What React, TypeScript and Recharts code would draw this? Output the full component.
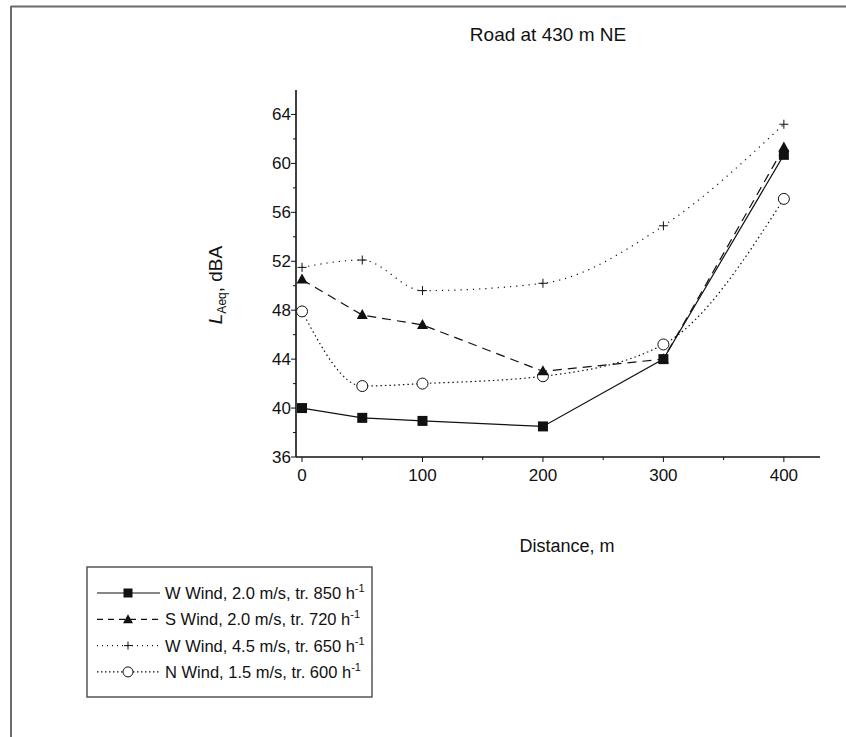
import React from 'react';
import { LineChart, Line, XAxis, YAxis } from 'recharts';

const distance = [0, 50, 100, 200, 300, 400];
const wWind20 = [40.0, 39.2, 38.95, 38.5, 44.0, 60.7];
const sWind20 = [50.5, 47.6, 46.8, 43.0, 44.0, 61.3];
const wWind45 = [51.5, 52.1, 49.6, 50.2, 54.9, 63.2];
const nWind15 = [47.9, 41.8, 42.0, 42.6, 45.2, 57.1];

const xTicks = [0, 50, 100, 150, 200, 250, 300, 350, 400];
const yTicks = [36, 38, 40, 42, 44, 46, 48, 50, 52, 54, 56, 58, 60, 62, 64];

const data = distance.map((d, i) => ({
  d,
  w20: wWind20[i],
  s20: sWind20[i],
  w45: wWind45[i],
  n15: nWind15[i],
}));

const FONT = '"Liberation Sans", Arial, sans-serif';
const INK = '#111';

const XTick = (props: any) => {
  const { x, y, payload } = props;
  const major = payload.value % 100 === 0;
  return (
    <g>
      <line x1={x} y1={y} x2={x} y2={y + (major ? 5 : 3)} stroke={INK} strokeWidth={1} />
      {major && (
        <text x={x} y={y + 24} textAnchor="middle" fontSize={17} fontFamily={FONT} fill={INK}>
          {payload.value}
        </text>
      )}
    </g>
  );
};

const YTick = (props: any) => {
  const { x, y, payload } = props;
  const major = payload.value % 4 === 0;
  return (
    <g>
      <line x1={x} y1={y} x2={x - (major ? 5 : 3)} y2={y} stroke={INK} strokeWidth={1} />
      {major && (
        <text x={x - 5} y={y + 6} textAnchor="end" fontSize={17} fontFamily={FONT} fill={INK}>
          {payload.value}
        </text>
      )}
    </g>
  );
};

const SquareDot = (props: any) => {
  const { cx, cy } = props;
  return <rect x={cx - 5} y={cy - 5} width={10} height={10} fill={INK} />;
};

const TriangleDot = (props: any) => {
  const { cx, cy } = props;
  return <path d={`M${cx},${cy - 6} L${cx + 5.5},${cy + 4} L${cx - 5.5},${cy + 4} Z`} fill={INK} />;
};

const PlusDot = (props: any) => {
  const { cx, cy } = props;
  return (
    <path d={`M${cx - 4.5},${cy} H${cx + 4.5} M${cx},${cy - 4.5} V${cy + 4.5}`} stroke={INK} strokeWidth={1} fill="none" />
  );
};

const CircleDot = (props: any) => {
  const { cx, cy } = props;
  return <circle cx={cx} cy={cy} r={5.5} fill="#fff" stroke={INK} strokeWidth={1} />;
};

const legendRows = [
  { label: 'W Wind, 2.0 m/s, tr. 850 h', dash: undefined, mark: 'square' },
  { label: 'S Wind, 2.0 m/s, tr. 720 h', dash: '6 5', mark: 'triangle' },
  { label: 'W Wind, 4.5 m/s, tr. 650 h', dash: '1 4', mark: 'plus' },
  { label: 'N Wind, 1.5 m/s, tr. 600 h', dash: '1.5 2.5', mark: 'circle' },
];

const LegendMark = ({ kind, cx, cy }: { kind: string; cx: number; cy: number }) => {
  if (kind === 'square') return <rect x={cx - 4.5} y={cy - 4.5} width={9} height={9} fill={INK} />;
  if (kind === 'triangle') return <path d={`M${cx},${cy - 5} L${cx + 5},${cy + 4} L${cx - 5},${cy + 4} Z`} fill={INK} />;
  if (kind === 'plus')
    return <path d={`M${cx - 4},${cy} H${cx + 4} M${cx},${cy - 4} V${cy + 4}`} stroke={INK} strokeWidth={1} />;
  return <circle cx={cx} cy={cy} r={5} fill="#fff" stroke={INK} strokeWidth={1} />;
};

export default function App() {
  return (
    <div style={{ position: 'absolute', left: 0, top: 0, width: 846, height: 737, background: '#fff' }}>
      <LineChart
        width={846}
        height={737}
        data={data}
        margin={{ top: 90, right: 26, bottom: 0, left: 0 }}
      >
        <XAxis
          dataKey="d"
          type="number"
          domain={[-5, 430]}
          ticks={xTicks}
          tick={<XTick />}
          tickLine={false}
          tickSize={0}
          tickMargin={0}
          height={280}
          axisLine={{ stroke: INK, strokeWidth: 1.6 }}
          allowDataOverflow
        />
        <YAxis
          type="number"
          domain={[36, 66]}
          ticks={yTicks}
          tick={<YTick />}
          tickLine={false}
          tickSize={0}
          tickMargin={0}
          width={296}
          axisLine={{ stroke: INK, strokeWidth: 1.6 }}
          allowDataOverflow
        />
        <Line dataKey="w45" type="monotone" stroke={INK} strokeWidth={1.2} strokeDasharray="1.2 5" dot={<PlusDot />} isAnimationActive={false} />
        <Line dataKey="n15" type="monotone" stroke={INK} strokeWidth={1.2} strokeDasharray="1.5 3" dot={<CircleDot />} isAnimationActive={false} />
        <Line dataKey="s20" type="linear" stroke={INK} strokeWidth={1.2} strokeDasharray="9 6" dot={<TriangleDot />} isAnimationActive={false} />
        <Line dataKey="w20" type="linear" stroke={INK} strokeWidth={1.2} dot={<SquareDot />} isAnimationActive={false} />
      </LineChart>

      <svg
        width={846}
        height={737}
        style={{ position: 'absolute', left: 0, top: 0, pointerEvents: 'none' }}
      >
        <line x1={11} y1={6.5} x2={846} y2={6.5} stroke="#6b6b6b" strokeWidth={2} />
        <line x1={11} y1={6} x2={11} y2={737} stroke="#6b6b6b" strokeWidth={2} />
        <text x={548} y={41} textAnchor="middle" fontSize={19} fontFamily={FONT} fill={INK}>
          Road at 430 m NE
        </text>
        <text x={567} y={552} textAnchor="middle" fontSize={18} fontFamily={FONT} fill={INK}>
          Distance, m
        </text>
        <text
          transform="translate(222,285) rotate(-90)"
          textAnchor="middle"
          fontSize={19}
          fontFamily={FONT}
          fill={INK}
        >
          <tspan fontStyle="italic">L</tspan>
          <tspan fontSize={12} dy={4}>Aeq</tspan>
          <tspan dy={-4}>, dBA</tspan>
        </text>

        <rect x={87} y={567} width={285} height={130} fill="#fff" stroke="#555" strokeWidth={1.5} />
        {legendRows.map((r, i) => {
          const cy = 593 + i * 26.3;
          return (
            <g key={r.label}>
              <line x1={97} y1={cy} x2={160} y2={cy} stroke={INK} strokeWidth={1.2} strokeDasharray={r.dash} />
              <LegendMark kind={r.mark} cx={128} cy={cy} />
              <text x={165} y={cy + 6} fontSize={16.5} fontFamily={FONT} fill={INK}>
                {r.label}
                <tspan fontSize={11} dy={-7}>-1</tspan>
              </text>
            </g>
          );
        })}
      </svg>
    </div>
  );
}
